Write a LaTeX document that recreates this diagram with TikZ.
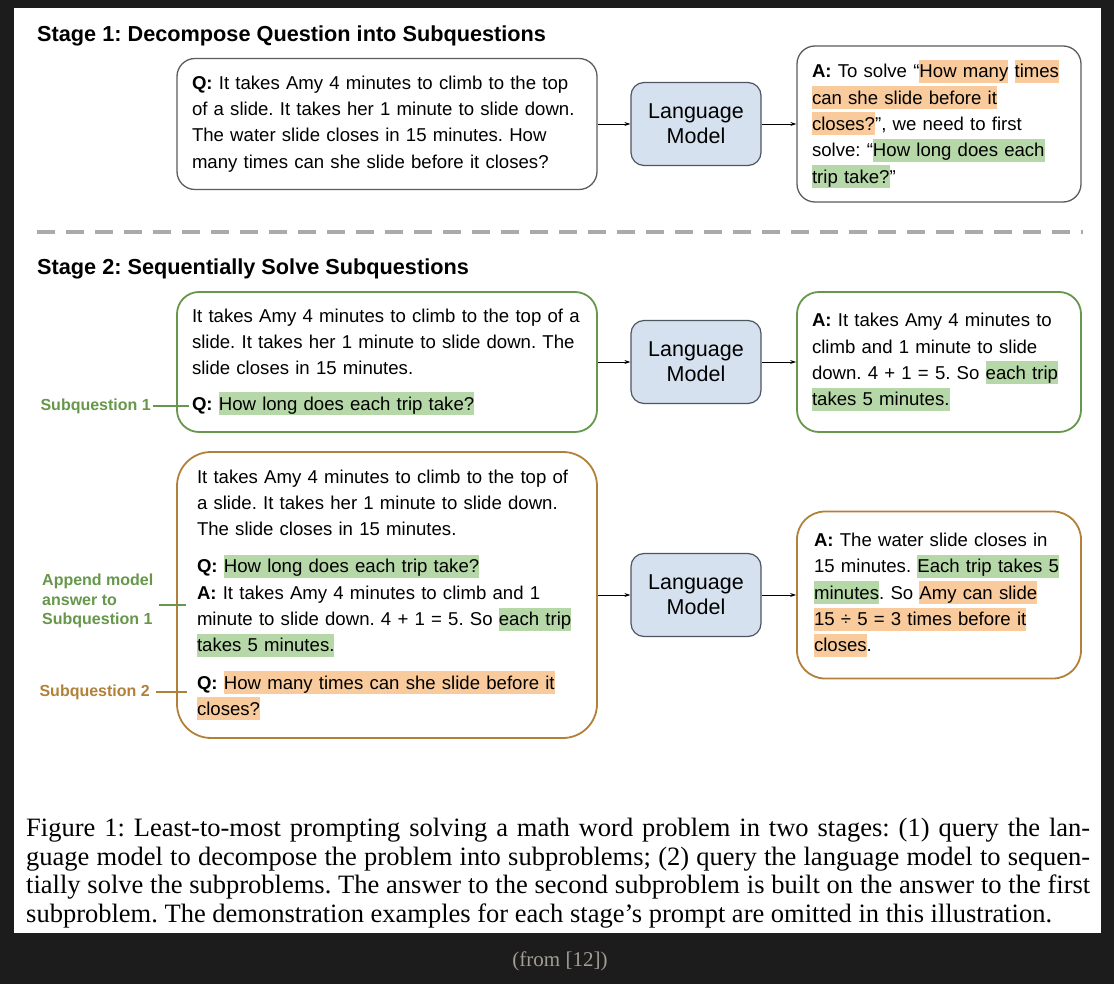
\documentclass[tikz,border=0pt]{standalone}
\usepackage{fontspec}
\setmainfont{Liberation Sans}
\newfontfamily\capfont{Liberation Serif}
\usetikzlibrary{arrows.meta}
\frenchspacing

\definecolor{darkbg}{HTML}{1C1C1C}
\definecolor{boxgray}{HTML}{5C5C5C}
\definecolor{lmblue}{HTML}{D6E1EF}
\definecolor{lmedge}{HTML}{4E5660}
\definecolor{sqgreen}{HTML}{66974A}
\definecolor{sqbrown}{HTML}{B3803A}
\definecolor{hlgreen}{HTML}{B6D7A8}
\definecolor{hlorange}{HTML}{F9CB9C}
\definecolor{dashgray}{HTML}{AAAAAA}
\definecolor{srcgray}{HTML}{A39E93}

\newcommand\bodyfont{\fontsize{18.6}{26.3}\selectfont}
% highlighted phrases
\newcommand\hlg[1]{{\setlength{\fboxsep}{0pt}\colorbox{hlgreen}{\rule[-5pt]{0pt}{23pt}#1}}}
\newcommand\hlo[1]{{\setlength{\fboxsep}{0pt}\colorbox{hlorange}{\rule[-5pt]{0pt}{23pt}#1}}}

\tikzset{
    stagetitle/.style={anchor=base west, inner sep=0pt, font=\fontsize{21.7}{26}\selectfont\bfseries},
    textbox/.style={draw=boxgray, line width=1.3pt, rounded corners=18pt, fill=white,
        align=left, inner xsep=15pt, inner ysep=0pt, font=\bodyfont},
    greenbox/.style={textbox, draw=sqgreen, line width=1.8pt, rounded corners=22pt},
    brownbox/.style={textbox, draw=sqbrown, line width=1.8pt, rounded corners=34pt},
    lmbox/.style={draw=lmedge, fill=lmblue, line width=1.2pt, rounded corners=13pt,
        minimum width=130pt, minimum height=83pt, align=center, inner sep=0pt,
        font=\fontsize{21.5}{25}\selectfont},
    flow/.style={-{Stealth[length=6pt,width=4pt]}, line width=0.9pt},
    sublabel/.style={font=\fontsize{16}{19.5}\selectfont\bfseries, inner sep=2pt, align=left},
    tick/.style={line width=1.6pt},
}

\begin{document}
\begin{tikzpicture}[x=1pt, y=-1pt]
    \fill[darkbg] (0, 0) rectangle (1114, 984);
    \fill[white] (14, 8) rectangle (1101, 933);

    % stage 1
    \node[stagetitle] (title1) at (37, 42) {Stage 1: Decompose Question into Subquestions};

    \node[textbox, text width=390pt, minimum height=131pt] (q1) at (387, 124) {%
        \textbf{Q:} It takes Amy 4 minutes to climb to the top\\
        of a slide. It takes her 1 minute to slide down.\\
        The water slide closes in 15 minutes. How\\
        many times can she slide before it closes?};
    \node[lmbox] (lm1) at (696, 124) {Language\\Model};
    \node[textbox, text width=254pt, minimum height=156pt] (a1) at (939, 124) {%
        \textbf{A:} To solve “\hlo{How many} \hlo{times}\\
        \hlo{can she slide before it}\\
        \hlo{closes?}”, we need to first\\
        solve: “\hlg{How long does each}\\
        \hlg{trip take?}”};

    \draw[flow] (q1) -- (lm1);
    \draw[flow] (lm1) -- (a1);

    \draw[dashgray, line width=4pt, dash pattern=on 18pt off 11pt] (37, 232) -- (1083, 232);

    % stage 2
    \node[stagetitle] (title2) at (37, 275) {Stage 2: Sequentially Solve Subquestions};

    \node[greenbox, text width=390pt, minimum height=140pt] (s1q) at (387, 362) {%
        It takes Amy 4 minutes to climb to the top of a\\
        slide. It takes her 1 minute to slide down. The\\
        slide closes in 15 minutes.\\[9pt]
        \textbf{Q:} \hlg{How long does each trip take?}};
    \node[lmbox] (lm2) at (696, 362) {Language\\Model};
    \node[greenbox, text width=254pt, minimum height=140pt] (a2) at (939, 362) {%
        \textbf{A:} It takes Amy 4 minutes to\\
        climb and 1 minute to slide\\
        down. 4 + 1 = 5. So \hlg{each trip}\\
        \hlg{takes 5 minutes.}};

    \node[brownbox, text width=380pt, inner xsep=20pt, minimum height=286pt] (s2q) at (387, 595) {%
        It takes Amy 4 minutes to climb to the top of\\
        a slide. It takes her 1 minute to slide down.\\
        The slide closes in 15 minutes.\\[11pt]
        \textbf{Q:} \hlg{How long does each trip take?}\\
        \textbf{A:} It takes Amy 4 minutes to climb and 1\\
        minute to slide down. 4 + 1 = 5. So \hlg{each trip}\\
        \hlg{takes 5 minutes.}\\[11pt]
        \textbf{Q:} \hlo{How many times can she slide before it}\\
        \hlo{closes?}};
    \node[lmbox] (lm3) at (696, 595) {Language\\Model};
    \node[brownbox, text width=250pt, inner xsep=17pt, rounded corners=28pt, minimum height=167pt] (a3) at (939, 595) {%
        \textbf{A:} The water slide closes in\\
        15 minutes. \hlg{Each trip takes 5}\\
        \hlg{minutes}. So \hlo{Amy can slide}\\
        \hlo{15 ÷ 5 = 3 times before it}\\
        \hlo{closes}.};

    \draw[flow] (s1q) -- (lm2);
    \draw[flow] (lm2) -- (a2);
    \draw[flow] (s2q) -- (lm3);
    \draw[flow] (lm3) -- (a3);

    % side labels
    \node[sublabel, text=sqgreen, anchor=east] (lab1) at (153, 406) {Subquestion 1};
    \node[sublabel, text=sqgreen, anchor=west] (lab2) at (40, 601) {Append model\\answer to\\Subquestion 1};
    \node[sublabel, text=sqbrown, anchor=east] (lab3) at (152, 692) {Subquestion 2};
    \coordinate (end1) at (189, 406);
    \coordinate (end2) at (186, 605);
    \coordinate (end3) at (187, 692);
    \draw[tick, sqgreen] (lab1.east) -- (end1);
    \draw[tick, sqgreen] (lab2.east |- end2) ++(3, 0) -- (end2);
    \draw[tick, sqbrown] (lab3.east) ++(4, 0) -- (end3);

    % caption
    \node[anchor=north west, inner sep=0pt, text width=1064pt, align=justify, font=\capfont\fontsize{26.5}{28.7}\selectfont] (caption) at (26, 818) {%
        Figure 1: Least-to-most prompting solving a math word problem in two stages: (1) query the lan-\linebreak
        guage model to decompose the problem into subproblems; (2) query the language model to sequen-\linebreak
        tially solve the subproblems. The answer to the second subproblem is built on the answer to the first\linebreak
        subproblem. The demonstration examples for each stage’s prompt are omitted in this illustration.};

    \node[text=srcgray, font=\capfont\fontsize{21}{25}\selectfont] (source) at (560, 961) {(from [12])};
\end{tikzpicture}
\end{document}
